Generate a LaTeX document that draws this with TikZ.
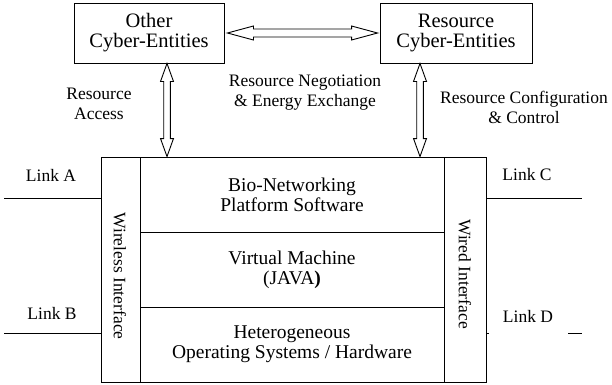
\documentclass[tikz,border=0pt]{standalone}
\usepackage{fontspec}
\setmainfont{Liberation Serif}
\usetikzlibrary{calc}

% Hollow two-headed arrow from #1 to #2; #3 head length, #4 head half-width, #5 shaft half-width
\newcommand{\hollowarrow}[5]{%
  \draw[hollow] let \p1=#1, \p2=#2,
      \n1={atan2(\y2-\y1,\x2-\x1)}, \n2={veclen(\x2-\x1,\y2-\y1)} in
    [shift={(\p1)}, rotate=\n1]
    (0pt,0pt) -- (#3,#4) -- (#3,#5) -- ({\n2*1pt-#3},#5) -- ({\n2*1pt-#3},#4)
    -- ({\n2*1pt},0pt) -- ({\n2*1pt-#3},-#4) -- ({\n2*1pt-#3},-#5) -- (#3,-#5) -- (#3,-#4) -- cycle;}

\tikzset{
  box/.style={draw, line width=0.9pt, inner sep=0pt, align=center,
    font=\fontsize{20.5}{20}\selectfont},
  layer/.style={draw, line width=0.9pt, inner sep=0pt, minimum width=304pt,
    minimum height=75pt, align=center, font=\fontsize{19.5}{20}\selectfont},
  panel/.style={draw, line width=0.9pt, inner sep=0pt, minimum height=225pt},
  lbl/.style={align=center, inner sep=0pt, font=\fontsize{17.5}{20}\selectfont},
  hollow/.style={draw, line width=0.9pt, fill=white},
  wire/.style={line width=0.9pt},
}

\begin{document}
\begin{tikzpicture}[x=1pt, y=-1pt]
  \useasboundingbox (0,0) rectangle (612,384);

  % cyber-entities
  \node[box, minimum width=150pt, minimum height=60pt] (other) at (149,33) {Other\\Cyber-Entities};
  \node[box, minimum width=152pt, minimum height=60pt] (res) at (456,33) {Resource\\Cyber-Entities};

  % platform stack
  \node[panel, minimum width=385pt] (stack) at (293.5,269.5) {};
  \node[panel, minimum width=39pt] (wl) at (120.5,269.5) {};
  \node[panel, minimum width=42pt] (wd) at (465,269.5) {};
  \node[layer] (bio) at (292,194.5) {Bio-Networking\\Platform Software};
  \node[layer] (vm) at (292,269.5) {Virtual Machine\\(JAVA\textbf{)}};
  \node[layer] (os) at (292,344.5) {Heterogeneous\\Operating Systems / Hardware};
  \node[lbl, rotate=-90] (wltext) at (120,276) {Wireless Interface};
  \node[lbl, rotate=-90] (wdtext) at (465,274) {Wired Interface};

  % links
  \coordinate (ea) at (4,198);
  \coordinate (eb) at (4,333);
  \coordinate (ec) at (582,198);
  \coordinate (ed) at (582,333);
  \draw[wire] (ea) -- (ea -| stack.west);
  \draw[wire] (eb) -- (eb -| stack.west);
  \draw[wire] (stack.east |- ec) -- (ec);
  \draw[wire, dash pattern=on 3pt off 79pt on 14pt] (stack.east |- ed) -- (ed);
  \node[lbl] (la) at (51,175) {Link A};
  \node[lbl] (lb) at (52,313) {Link B};
  \node[lbl] (lc) at (527,175) {Link C};
  \node[lbl] (ld) at (528,316) {Link D};

  % interactions
  \coordinate (xa) at (167,0);
  \coordinate (xb) at (420,0);
  \hollowarrow{($(other.east)+(3,0)$)}{($(res.west)-(2,0)$)}{26pt}{7pt}{4pt}
  \hollowarrow{(other.south -| xa)}{(stack.north -| xa)}{18pt}{6.5pt}{3.3pt}
  \hollowarrow{(res.south -| xb)}{(stack.north -| xb)}{18pt}{6.5pt}{3.3pt}

  \node[lbl] (acc) at (99,104) {Resource\\Access};
  \node[lbl] (neg) at (305,93) {Resource Negotiation\\\& Energy Exchange};
  \node[lbl] (cfg) at (524,107) {Resource Configuration\\\& Control};
\end{tikzpicture}
\end{document}
